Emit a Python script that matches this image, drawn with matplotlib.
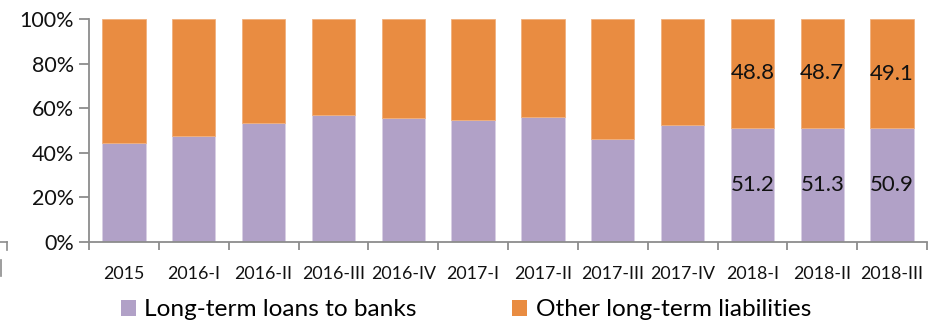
import matplotlib
matplotlib.use("Agg")
import matplotlib.pyplot as plt
from matplotlib.patches import Patch
from matplotlib.lines import Line2D
import numpy as np

categories = ["2015", "2016-I", "2016-II", "2016-III", "2016-IV", "2017-I",
              "2017-II", "2017-III", "2017-IV", "2018-I", "2018-II", "2018-III"]
loans_to_banks = [44.5, 47.7, 53.2, 56.9, 55.5, 54.7, 56.2, 46.2, 52.3, 51.2, 51.3, 50.9]
other_liabilities = [100 - v for v in loans_to_banks[:9]] + [48.8, 48.7, 49.1]
labelled = [9, 10, 11]

purple = "#B1A1C7"
orange = "#E98C41"
axis_grey = "#8C8C8C"

plt.rcParams["font.family"] = ["Lato", "DejaVu Sans"]

W, H = 940, 323
fig = plt.figure(figsize=(W / 100, H / 100), dpi=100)
ax = fig.add_axes([89 / W, (H - 242) / H, (927 - 89) / W, (242 - 19) / H])

x = np.arange(len(categories))
bw = 0.62
ax.bar(x, loans_to_banks, bw, color=purple, edgecolor="#D9D0E4", linewidth=0.6, zorder=2)
ax.bar(x, other_liabilities, bw, bottom=loans_to_banks, color=orange,
       edgecolor="#F0B07E", linewidth=0.6, zorder=2)

for i in labelled:
    ax.text(x[i], loans_to_banks[i] / 2, f"{loans_to_banks[i]:.1f}",
            ha="center", va="center", fontsize=16, color="#111111", zorder=3)
    ax.text(x[i], loans_to_banks[i] + other_liabilities[i] / 2, f"{other_liabilities[i]:.1f}",
            ha="center", va="center", fontsize=16, color="#111111", zorder=3)

ax.set_xlim(-0.5, len(categories) - 0.5)
ax.set_ylim(0, 100)
ax.set_yticks([0, 20, 40, 60, 80, 100])
ax.set_yticklabels([f"{v}%" for v in [0, 20, 40, 60, 80, 100]], fontsize=15.5)
ax.set_xticks(x)
ax.set_xticklabels(categories, fontsize=12.8)
ax.set_xticks(np.arange(len(categories) + 1) - 0.5, minor=True)
ax.tick_params(axis="x", which="major", length=0, pad=17, colors="#111111")
ax.tick_params(axis="x", which="minor", length=6, width=1.3, color=axis_grey)
ax.tick_params(axis="y", length=7, width=1.3, color=axis_grey, pad=4, labelcolor="#111111")

for s in ["top", "right"]:
    ax.spines[s].set_visible(False)
for s in ["left", "bottom"]:
    ax.spines[s].set_color(axis_grey)
    ax.spines[s].set_linewidth(1.3)

handles = [Patch(facecolor=purple, label="Long-term loans to banks"),
           Patch(facecolor=orange, label="Other long-term liabilities")]
fig.legend(handles=handles, loc="center", bbox_to_anchor=(466 / W, (H - 310) / H),
           ncol=2, frameon=False, fontsize=17.6, handlelength=0.62, handleheight=0.62,
           handletextpad=0.35, columnspacing=3.9)

# small frame fragment at the left edge
def px(xp, yp):
    return xp / W, (H - yp) / H

for (x0, y0), (x1, y1) in [((0, 242), (7, 242)), ((7, 242), (7, 250)), ((1, 260), (1, 276))]:
    a, b = px(x0, y0)
    c, d = px(x1, y1)
    fig.add_artist(Line2D([a, c], [b, d], color=axis_grey, linewidth=1.2))

fig.savefig("out.png", dpi=100)
